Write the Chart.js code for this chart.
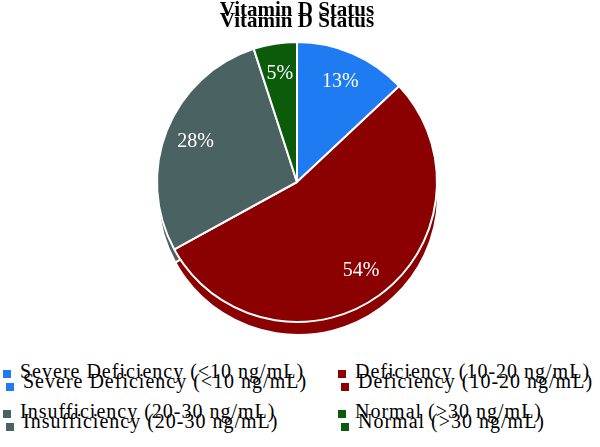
<!DOCTYPE html>
<html>
<head>
<meta charset="utf-8">
<script src="https://cdn.jsdelivr.net/npm/chart.js@4"></script>
<style>
  html, body { margin: 0; padding: 0; background: #fff; }
  #wrap { position: relative; width: 600px; height: 447px; overflow: hidden; }
  #plot { position: absolute; left: 0; top: 0; width: 600px; height: 360px; }
  #legend { position: absolute; left: 0; top: 360px; width: 600px; height: 87px;
            font-family: "Liberation Serif", serif; font-size: 20px; letter-spacing: 1px; color: #000; }
  .lg-box { position: absolute; width: 8px; height: 8px; }
  .lg-text { position: absolute; white-space: nowrap; line-height: 20px; }
</style>
</head>
<body>
<div id="wrap">
  <div id="plot"><canvas id="myChart"></canvas></div>
  <div id="legend"></div>
</div>
<script>
var chartTitle = "Vitamin D Status";
var labels = ["Severe Deficiency (<10 ng/mL)", "Deficiency (10-20 ng/mL)", "Insufficiency (20-30 ng/mL)", "Normal (>30 ng/mL)"];
var values = [13, 54, 28, 5];
var colors = ["#1e7bf2", "#8b0000", "#4b6262", "#0b5b0b"];

// the "3D" base: same slices drawn again, pushed down a bit
var shadowPlugin = {
  id: "shadow",
  beforeDatasetsDraw: function (chart) {
    var ctx = chart.ctx;
    ctx.save();
    ctx.translate(1, 13);
    chart.getDatasetMeta(0).data.forEach(function (arc) {
      arc.draw(ctx);
    });
    ctx.restore();
  }
};

// percentage labels inside the slices
var labelPlugin = {
  id: "pctLabels",
  afterDatasetsDraw: function (chart) {
    var ctx = chart.ctx;
    var meta = chart.getDatasetMeta(0);
    ctx.save();
    ctx.fillStyle = "#fff";
    ctx.font = "20px 'Liberation Serif'";
    ctx.textAlign = "center";
    ctx.textBaseline = "middle";
    meta.data.forEach(function (arc, i) {
      var p = arc.getProps(["x", "y", "startAngle", "endAngle", "outerRadius"], true);
      var mid = (p.startAngle + p.endAngle) / 2;
      var r = p.outerRadius * 0.78;
      ctx.fillText(values[i] + "%", p.x + Math.cos(mid) * r, p.y + Math.sin(mid) * r);
    });
    ctx.restore();
  }
};

// legend in html so the two columns line up like the original
function buildLegend() {
  var el = document.getElementById("legend");
  var colX = [3, 338];
  var baseY = [18, 58];
  // drawn twice, second copy slightly shifted (as in the source figure)
  var copies = [{ dx: 0, dy: 0, bdy: 0 }, { dx: 3, dy: 10, bdy: 13 }];
  copies.forEach(function (c) {
    labels.forEach(function (lab, i) {
      var x = colX[i % 2] + c.dx;
      var b = baseY[Math.floor(i / 2)];
      var box = document.createElement("div");
      box.className = "lg-box";
      box.style.background = colors[i];
      box.style.left = x + "px";
      box.style.top = (b - 8 + c.bdy) + "px";
      el.appendChild(box);
      var t = document.createElement("div");
      t.className = "lg-text";
      t.textContent = lab;
      t.style.left = (x + 17) + "px";
      t.style.top = (b - 16.75 + c.dy) + "px";
      el.appendChild(t);
    });
  });
}

buildLegend();

const ctx = document.getElementById("myChart");
window.chart = new Chart(ctx, {
  type: "pie",
  data: {
    labels: labels,
    datasets: [
      {
        data: values,
        backgroundColor: colors,
        borderColor: "#fff",
        borderWidth: 2,
      },
    ],
  },
  options: {
    responsive: true,
    maintainAspectRatio: false,
    animation: false,
    layout: { padding: { left: 0, right: 6, top: 0, bottom: 37 } },
    plugins: {
      legend: { display: false },
      tooltip: { enabled: false },
      title: {
        display: true,
        text: [chartTitle, chartTitle],
        color: "#000",
        font: { family: "Liberation Serif", size: 21, weight: "bold", lineHeight: "11px" },
        padding: { top: 5, bottom: 14 },
      },
    },
  },
  plugins: [shadowPlugin, labelPlugin],
});
</script>
</body>
</html>
